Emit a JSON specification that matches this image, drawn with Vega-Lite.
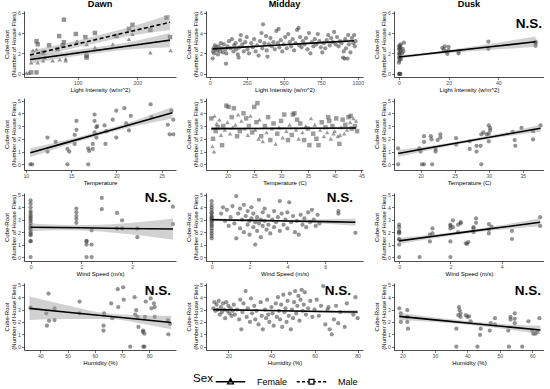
{
"$schema": "https://vega.github.io/schema/vega-lite/v6.json",
"padding": {"left": 3, "top": 0, "right": 0, "bottom": 0},
"config": {
 "font": "Liberation Sans",
 "view": {"stroke": null},
 "axis": {"grid": false, "domainColor": "#000", "domainWidth": 0.7, "tickColor": "#333", "tickWidth": 0.7, "tickSize": 2.5, "labelFontSize": 5.2, "labelColor": "#4d4d4d", "labelPadding": 1, "titleFontSize": 6, "titleFontWeight": "normal", "titleColor": "#000", "titlePadding": 0.5, "labelFlush": false, "labelOverlap": false, "labelBound": false, "format": "d"},
 "axisY": {"titleLineHeight": 7, "titlePadding": 1},
 "title": {"fontSize": 9.2, "fontWeight": "bold", "color": "#000", "offset": 1}
},
"columns": 3,
"align": "each",
"spacing": {"row": 5, "column": 8},
"resolve": {"scale": {"shape": "independent", "strokeDash": "independent"}, "legend": {"shape": "independent", "strokeDash": "independent"}},
"datasets": {
"p1": [
{"x":22,"y":1.1,"sex":"Female"},{"x":33,"y":1.1,"sex":"Female"},{"x":42,"y":1.3,"sex":"Female"},{"x":58,"y":1.3,"sex":"Female"},{"x":80,"y":1.3,"sex":"Female"},{"x":80,"y":1.5,"sex":"Female"},{"x":99,"y":3.2,"sex":"Female"},{"x":115,"y":2.9,"sex":"Female"},{"x":129,"y":2.6,"sex":"Female"},{"x":159,"y":2.9,"sex":"Female"},{"x":186,"y":3.4,"sex":"Female"},{"x":192,"y":3.9,"sex":"Female"},{"x":222,"y":2.1,"sex":"Female"},{"x":256,"y":2.3,"sex":"Female"},{"x":14,"y":0.1,"sex":"Female"},{"x":18,"y":0.1,"sex":"Female"},{"x":31,"y":2.4,"sex":"Female"},{"x":25,"y":2.3,"sex":"Female"},{"x":45,"y":1.6,"sex":"Female"},{"x":70,"y":1.4,"sex":"Female"},
{"x":31,"y":3.2,"sex":"Male"},{"x":33,"y":2.9,"sex":"Male"},{"x":77,"y":5.3,"sex":"Male"},{"x":69,"y":3.7,"sex":"Male"},{"x":97,"y":3.9,"sex":"Male"},{"x":113,"y":3.6,"sex":"Male"},{"x":129,"y":4.0,"sex":"Male"},{"x":77,"y":3.1,"sex":"Male"},{"x":75,"y":2.8,"sex":"Male"},{"x":52,"y":2.8,"sex":"Male"},{"x":186,"y":4.4,"sex":"Male"},{"x":192,"y":4.8,"sex":"Male"},{"x":222,"y":4.3,"sex":"Male"},{"x":249,"y":5.5,"sex":"Male"},{"x":255,"y":3.6,"sex":"Male"},{"x":115,"y":1.8,"sex":"Male"},{"x":115,"y":1.6,"sex":"Male"},{"x":165,"y":3.7,"sex":"Male"},{"x":31,"y":0.15,"sex":"Male"},{"x":22,"y":0.15,"sex":"Male"},{"x":42,"y":2.1,"sex":"Male"},{"x":66,"y":2.4,"sex":"Male"}
],
"f1": [
{"x":20,"y":1.4,"lo":1.0,"hi":1.8,"sex":"Female"},{"x":80,"y":1.89,"lo":1.6,"hi":2.2,"sex":"Female"},{"x":130,"y":2.29,"lo":2.0,"hi":2.6,"sex":"Female"},{"x":190,"y":2.77,"lo":2.4,"hi":3.15,"sex":"Female"},{"x":255,"y":3.3,"lo":2.6,"hi":4.0,"sex":"Female"},
{"x":20,"y":1.85,"lo":1.4,"hi":2.3,"sex":"Male"},{"x":80,"y":2.67,"lo":2.35,"hi":3.0,"sex":"Male"},{"x":130,"y":3.35,"lo":3.0,"hi":3.7,"sex":"Male"},{"x":190,"y":4.17,"lo":3.75,"hi":4.6,"sex":"Male"},{"x":255,"y":5.05,"lo":4.3,"hi":5.8,"sex":"Male"}
],
"p2": [
{"x":20,"y":1.5},{"x":22,"y":2.2},{"x":25,"y":2.5},{"x":30,"y":2.0},{"x":35,"y":2.8},{"x":40,"y":2.4},{"x":45,"y":2.6},{"x":50,"y":2.3},{"x":55,"y":1.9},{"x":60,"y":2.7},{"x":70,"y":2.2},{"x":75,"y":3.0},{"x":80,"y":2.5},{"x":90,"y":2.1},{"x":95,"y":2.9},{"x":110,"y":1.0},{"x":105,"y":2.4},{"x":112,"y":2.0},{"x":120,"y":2.7},{"x":130,"y":3.2},{"x":140,"y":2.5},{"x":150,"y":3.4},{"x":160,"y":2.2},{"x":165,"y":2.8},{"x":175,"y":3.0},{"x":180,"y":2.4},{"x":190,"y":1.9},{"x":195,"y":1.6},{"x":200,"y":2.6},{"x":205,"y":3.3},{"x":210,"y":3.8},{"x":220,"y":2.9},{"x":230,"y":2.2},{"x":240,"y":3.1},{"x":250,"y":3.6},{"x":255,"y":2.4},{"x":265,"y":2.0},{"x":280,"y":3.0},{"x":290,"y":2.6},{"x":300,"y":3.4},{"x":310,"y":2.2},{"x":320,"y":2.8},{"x":330,"y":1.8},{"x":340,"y":3.2},{"x":350,"y":4.0},{"x":355,"y":2.5},{"x":360,"y":4.85},{"x":370,"y":3.0},{"x":380,"y":3.7},{"x":385,"y":2.3},{"x":390,"y":1.7},{"x":400,"y":2.9},{"x":410,"y":3.5},{"x":420,"y":2.7},{"x":430,"y":3.1},{"x":440,"y":2.4},{"x":450,"y":4.2},{"x":460,"y":3.0},{"x":465,"y":4.4},{"x":470,"y":2.6},{"x":480,"y":3.3},{"x":490,"y":2.2},{"x":500,"y":2.9},{"x":510,"y":3.6},{"x":520,"y":2.5},{"x":530,"y":3.9},{"x":540,"y":3.1},{"x":550,"y":2.7},{"x":560,"y":3.4},{"x":570,"y":2.3},{"x":580,"y":3.0},{"x":590,"y":4.3},{"x":600,"y":4.5},{"x":605,"y":2.8},{"x":610,"y":3.6},{"x":620,"y":2.6},{"x":630,"y":3.2},{"x":640,"y":2.9},{"x":650,"y":3.5},{"x":660,"y":2.4},{"x":670,"y":4.0},{"x":680,"y":2.0},{"x":690,"y":3.1},{"x":700,"y":2.7},{"x":710,"y":3.4},{"x":720,"y":2.9},{"x":730,"y":3.9},{"x":740,"y":3.2},{"x":750,"y":2.6},{"x":760,"y":2.1},{"x":770,"y":3.0},{"x":780,"y":2.5},{"x":790,"y":3.3},{"x":800,"y":3.8},{"x":810,"y":2.8},{"x":820,"y":3.5},{"x":830,"y":3.1},{"x":840,"y":4.1},{"x":850,"y":2.9},{"x":860,"y":3.6},{"x":870,"y":2.7},{"x":880,"y":3.2},{"x":890,"y":3.0},{"x":900,"y":1.6},{"x":905,"y":2.2},{"x":910,"y":1.5},{"x":915,"y":3.4},{"x":920,"y":2.5},{"x":930,"y":1.5},{"x":935,"y":3.8},{"x":940,"y":2.9},{"x":950,"y":2.1},{"x":960,"y":3.5},{"x":970,"y":3.0},{"x":975,"y":3.8},{"x":980,"y":2.7},{"x":985,"y":3.2}
],
"f2": [
{"x":20,"y":2.45,"lo":2.27,"hi":2.63},{"x":250,"y":2.64,"lo":2.54,"hi":2.74},{"x":500,"y":2.85,"lo":2.77,"hi":2.93},{"x":750,"y":3.06,"lo":2.96,"hi":3.16},{"x":975,"y":3.25,"lo":3.08,"hi":3.42}
],
"p3": [
{"x":0,"y":0},{"x":0.2,"y":0},{"x":0.4,"y":0},{"x":0.6,"y":0},{"x":0,"y":1.1},{"x":0.2,"y":1.3},{"x":0.4,"y":1.5},{"x":0,"y":1.6},{"x":0.5,"y":1.7},{"x":0.2,"y":1.9},{"x":0,"y":2.0},{"x":0.4,"y":2.1},{"x":0.6,"y":2.3},{"x":0,"y":2.4},{"x":0.3,"y":2.5},{"x":0.5,"y":2.6},{"x":0,"y":2.7},{"x":0.4,"y":2.8},{"x":0.7,"y":2.9},{"x":1.5,"y":2.45},{"x":1.8,"y":2.2},{"x":2.0,"y":3.05},{"x":1.2,"y":2.0},{"x":0.8,"y":1.45},
{"x":17.5,"y":2.55},{"x":18,"y":2.4},{"x":18.5,"y":2.7},{"x":19,"y":2.2},{"x":19.5,"y":1.95},{"x":20,"y":2.65},{"x":20,"y":2.3},{"x":24,"y":2.0},{"x":24,"y":2.2},{"x":36,"y":2.45},{"x":36,"y":3.15},{"x":55,"y":2.75},{"x":55,"y":3.0},{"x":55,"y":3.15}
],
"f3": [
{"x":0,"y":1.65,"lo":1.5,"hi":1.8},{"x":10,"y":1.92,"lo":1.8,"hi":2.04},{"x":20,"y":2.2,"lo":2.05,"hi":2.35},{"x":35,"y":2.6,"lo":2.32,"hi":2.88},{"x":55,"y":3.15,"lo":2.65,"hi":3.65}
],
"p4": [
{"x":10.5,"y":0},{"x":10.7,"y":0},{"x":12.4,"y":2.1},{"x":12.4,"y":1.0},{"x":13.3,"y":1.75},{"x":14.6,"y":0},{"x":14.6,"y":1.2},{"x":14.8,"y":1.0},{"x":15.4,"y":2.3},{"x":15.6,"y":3.4},{"x":15.6,"y":2.7},{"x":15.4,"y":1.6},{"x":16.9,"y":0},{"x":16.9,"y":1.25},{"x":17.0,"y":1.05},{"x":17.4,"y":1.2},{"x":17.4,"y":1.6},{"x":17.6,"y":3.9},{"x":17.6,"y":3.4},{"x":17.8,"y":2.9},{"x":17.8,"y":2.1},{"x":17.6,"y":2.5},{"x":17.9,"y":3.0},{"x":18.7,"y":3.05},{"x":18.8,"y":1.6},{"x":18.9,"y":2.6},{"x":19.6,"y":3.5},{"x":20,"y":2.1},{"x":20,"y":4.2},{"x":20.9,"y":4.4},{"x":21.1,"y":3.2},{"x":21.6,"y":3.8},{"x":21.4,"y":2.65},{"x":23.8,"y":4.7},{"x":23.9,"y":3.7},{"x":25.7,"y":3.1},{"x":25.9,"y":2.35},{"x":26.3,"y":2.35},{"x":26.3,"y":3.5},{"x":26.1,"y":4.2}
],
"f4": [
{"x":10.5,"y":0.9,"lo":0.55,"hi":1.25},{"x":14,"y":1.6,"lo":1.38,"hi":1.82},{"x":18,"y":2.4,"lo":2.23,"hi":2.57},{"x":22,"y":3.2,"lo":2.98,"hi":3.42},{"x":26.2,"y":4.05,"lo":3.6,"hi":4.5}
],
"p5": [
{"x":17.0,"y":3.6,"sex":"Male"},{"x":17.2,"y":1.4,"sex":"Female"},{"x":17.5,"y":1.0,"sex":"Female"},{"x":17.3,"y":2.0,"sex":"Male"},{"x":17.6,"y":3.8,"sex":"Female"},{"x":17.8,"y":2.6,"sex":"Male"},{"x":18.0,"y":3.2,"sex":"Female"},{"x":18.2,"y":2.9,"sex":"Male"},{"x":18.5,"y":3.5,"sex":"Female"},{"x":18.8,"y":2.3,"sex":"Female"},{"x":19.0,"y":1.5,"sex":"Male"},{"x":19.2,"y":3.0,"sex":"Male"},{"x":19.5,"y":2.7,"sex":"Female"},{"x":19.8,"y":4.6,"sex":"Male"},{"x":20.0,"y":3.3,"sex":"Female"},{"x":20.2,"y":4.5,"sex":"Male"},{"x":20.5,"y":2.4,"sex":"Female"},{"x":20.8,"y":3.7,"sex":"Male"},{"x":21.0,"y":2.9,"sex":"Female"},{"x":21.2,"y":4.4,"sex":"Male"},{"x":21.5,"y":3.1,"sex":"Female"},{"x":21.8,"y":2.2,"sex":"Male"},{"x":22.0,"y":3.9,"sex":"Female"},{"x":22.3,"y":2.6,"sex":"Male"},{"x":22.6,"y":3.4,"sex":"Female"},{"x":23.0,"y":4.0,"sex":"Male"},{"x":23.2,"y":2.8,"sex":"Female"},{"x":23.5,"y":3.6,"sex":"Male"},{"x":23.8,"y":2.3,"sex":"Female"},{"x":24.0,"y":3.0,"sex":"Male"},{"x":24.3,"y":3.8,"sex":"Female"},{"x":24.6,"y":2.5,"sex":"Male"},{"x":25.0,"y":4.5,"sex":"Male"},{"x":25.2,"y":2.7,"sex":"Female"},{"x":25.4,"y":3.3,"sex":"Male"},{"x":25.6,"y":4.8,"sex":"Male"},{"x":25.8,"y":2.0,"sex":"Female"},{"x":26.0,"y":3.5,"sex":"Female"},{"x":26.3,"y":2.2,"sex":"Male"},{"x":26.6,"y":1.8,"sex":"Female"},{"x":27.0,"y":3.0,"sex":"Male"},{"x":27.3,"y":2.5,"sex":"Female"},{"x":27.6,"y":3.7,"sex":"Male"},{"x":28.0,"y":1.9,"sex":"Male"},{"x":28.3,"y":2.8,"sex":"Female"},{"x":28.6,"y":3.2,"sex":"Male"},{"x":29.0,"y":1.6,"sex":"Female"},{"x":29.3,"y":2.4,"sex":"Male"},{"x":29.6,"y":2.9,"sex":"Female"},{"x":30.0,"y":3.4,"sex":"Male"},{"x":30.3,"y":2.1,"sex":"Female"},{"x":30.6,"y":3.9,"sex":"Male"},{"x":31.0,"y":2.6,"sex":"Female"},{"x":31.3,"y":1.9,"sex":"Male"},{"x":31.6,"y":3.1,"sex":"Female"},{"x":32.0,"y":2.3,"sex":"Male"},{"x":32.2,"y":3.9,"sex":"Male"},{"x":32.5,"y":4.0,"sex":"Male"},{"x":32.8,"y":2.7,"sex":"Female"},{"x":33.0,"y":3.5,"sex":"Male"},{"x":33.3,"y":2.0,"sex":"Female"},{"x":33.6,"y":3.2,"sex":"Male"},{"x":34.0,"y":2.5,"sex":"Female"},{"x":34.3,"y":1.9,"sex":"Male"},{"x":34.6,"y":3.0,"sex":"Female"},{"x":35.0,"y":2.8,"sex":"Male"},{"x":35.3,"y":1.5,"sex":"Male"},{"x":35.6,"y":3.6,"sex":"Female"},{"x":36.0,"y":2.4,"sex":"Male"},{"x":36.3,"y":3.1,"sex":"Female"},{"x":36.6,"y":2.0,"sex":"Male"},{"x":37.0,"y":1.5,"sex":"Male"},{"x":37.3,"y":2.7,"sex":"Female"},{"x":37.6,"y":3.3,"sex":"Male"},{"x":38.0,"y":2.2,"sex":"Female"},{"x":38.3,"y":2.9,"sex":"Male"},{"x":38.6,"y":2.5,"sex":"Female"},{"x":39.0,"y":3.4,"sex":"Male"},{"x":39.3,"y":2.0,"sex":"Female"},{"x":39.6,"y":3.0,"sex":"Male"},{"x":40.0,"y":2.6,"sex":"Female"},{"x":40.3,"y":3.6,"sex":"Male"},{"x":40.6,"y":2.2,"sex":"Female"},{"x":40.9,"y":1.6,"sex":"Male"},{"x":41.2,"y":2.9,"sex":"Female"},{"x":41.5,"y":3.5,"sex":"Male"},{"x":41.8,"y":2.4,"sex":"Female"},{"x":42.0,"y":3.1,"sex":"Male"},{"x":42.3,"y":2.7,"sex":"Female"},{"x":42.6,"y":3.7,"sex":"Male"},{"x":42.9,"y":3.3,"sex":"Female"},{"x":43.2,"y":2.8,"sex":"Male"},{"x":43.5,"y":3.6,"sex":"Female"},{"x":43.8,"y":3.0,"sex":"Male"},{"x":44.0,"y":3.4,"sex":"Female"},{"x":44.2,"y":2.6,"sex":"Male"},{"x":43.0,"y":3.8,"sex":"Male"},{"x":41.0,"y":2.3,"sex":"Female"},{"x":39.8,"y":2.4,"sex":"Female"},{"x":38.8,"y":3.7,"sex":"Male"}
],
"f5": [
{"x":17,"y":2.8,"lo":2.65,"hi":2.95},{"x":24,"y":2.81,"lo":2.72,"hi":2.9},{"x":30,"y":2.82,"lo":2.74,"hi":2.9},{"x":37,"y":2.83,"lo":2.74,"hi":2.92},{"x":44,"y":2.85,"lo":2.71,"hi":2.99}
],
"p6": [
{"x":16.7,"y":1.25},{"x":16.7,"y":0},{"x":19.8,"y":1.25},{"x":20,"y":1.0},{"x":20.5,"y":1.75},{"x":20.5,"y":2.2},{"x":20.2,"y":0},{"x":20.5,"y":0},{"x":21.7,"y":0},{"x":21.5,"y":2.2},{"x":21.6,"y":1.95},{"x":22.2,"y":1.2},{"x":22.2,"y":1.0},{"x":22.5,"y":1.9},{"x":22.9,"y":2.35},{"x":22.9,"y":2.1},{"x":25.2,"y":2.05},{"x":25.2,"y":1.55},{"x":27.2,"y":1.8},{"x":27.2,"y":1.2},{"x":28.2,"y":1.0},{"x":28.2,"y":1.45},{"x":28.8,"y":1.45},{"x":28.9,"y":0},{"x":28.9,"y":2.35},{"x":29.2,"y":2.5},{"x":29.7,"y":2.35},{"x":30,"y":2.4},{"x":30,"y":3.05},{"x":30.2,"y":2.65},{"x":30.2,"y":2.85},{"x":30,"y":1.8},{"x":33.5,"y":2.55},{"x":33.8,"y":1.9},{"x":33.9,"y":1.45},{"x":34.8,"y":2.85},{"x":36.5,"y":2.6},{"x":36.5,"y":1.95},{"x":37.6,"y":3.05}
],
"f6": [
{"x":16.7,"y":0.85,"lo":0.57,"hi":1.13},{"x":22,"y":1.35,"lo":1.2,"hi":1.5},{"x":27,"y":1.82,"lo":1.7,"hi":1.94},{"x":32,"y":2.3,"lo":2.15,"hi":2.45},{"x":37.6,"y":2.82,"lo":2.56,"hi":3.08}
],
"p7": [
{"x":0,"y":0},{"x":0,"y":1.25},{"x":0,"y":1.3},{"x":0,"y":1.75},{"x":0,"y":1.85},{"x":0,"y":2.0},{"x":0,"y":2.2},{"x":0,"y":2.35},{"x":0,"y":2.5},{"x":0,"y":2.7},{"x":0,"y":2.9},{"x":0,"y":3.05},{"x":0,"y":3.2},{"x":0,"y":3.35},{"x":0,"y":3.55},{"x":0,"y":3.7},{"x":0,"y":4.0},{"x":0,"y":4.3},{"x":0,"y":4.55},
{"x":0.9,"y":2.75},{"x":0.9,"y":3.05},{"x":0.9,"y":3.3},{"x":0.9,"y":3.6},{"x":0.9,"y":3.9},
{"x":1.1,"y":0},{"x":1.1,"y":1.0},{"x":1.1,"y":1.25},{"x":1.1,"y":1.3},{"x":1.2,"y":0},{"x":1.2,"y":1.0},{"x":1.2,"y":2.15},
{"x":1.4,"y":3.85},{"x":1.4,"y":4.75},{"x":1.7,"y":2.3},{"x":1.7,"y":3.55},{"x":1.8,"y":2.3},{"x":1.8,"y":2.95},{"x":2.1,"y":1.6},{"x":2.1,"y":2.3},{"x":2.8,"y":2.65},{"x":2.8,"y":4.05}
],
"f7": [
{"x":0,"y":2.4,"lo":2.08,"hi":2.72},{"x":0.5,"y":2.37,"lo":2.15,"hi":2.59},{"x":1.0,"y":2.35,"lo":2.13,"hi":2.57},{"x":1.8,"y":2.3,"lo":1.9,"hi":2.7},{"x":2.8,"y":2.25,"lo":1.4,"hi":3.1}
],
"p8": [
{"x":0,"y":1.5},{"x":0,"y":1.7},{"x":0,"y":1.9},{"x":0,"y":2.1},{"x":0,"y":2.3},{"x":0,"y":2.5},{"x":0,"y":2.6},{"x":0,"y":2.8},{"x":0,"y":2.9},{"x":0,"y":3.0},{"x":0,"y":3.1},{"x":0,"y":3.2},{"x":0,"y":3.3},{"x":0,"y":3.5},{"x":0,"y":3.6},{"x":0,"y":3.8},{"x":0,"y":4.0},{"x":0,"y":4.2},{"x":0,"y":4.5},
{"x":0.5,"y":3.5},{"x":0.6,"y":4.0},{"x":0.7,"y":2.9},{"x":0.8,"y":3.8},{"x":0.9,"y":2.5},{"x":1.0,"y":3.2},{"x":1.1,"y":4.1},{"x":1.2,"y":2.7},{"x":1.3,"y":4.9},{"x":1.3,"y":1.5},{"x":1.4,"y":3.5},{"x":1.5,"y":2.3},{"x":1.5,"y":3.9},{"x":1.6,"y":3.0},{"x":1.7,"y":4.2},{"x":1.7,"y":2.0},{"x":1.8,"y":3.3},{"x":1.9,"y":2.6},{"x":1.9,"y":3.7},{"x":2.0,"y":2.9},{"x":2.0,"y":1.8},{"x":2.1,"y":4.0},{"x":2.1,"y":3.1},{"x":2.2,"y":2.4},{"x":2.2,"y":3.5},{"x":2.3,"y":1.0},{"x":2.3,"y":2.8},{"x":2.4,"y":3.2},{"x":2.4,"y":2.1},{"x":2.5,"y":4.6},{"x":2.5,"y":2.7},{"x":2.6,"y":3.0},{"x":2.6,"y":1.6},{"x":2.7,"y":3.6},{"x":2.7,"y":2.5},{"x":2.8,"y":2.9},{"x":2.8,"y":3.9},{"x":2.9,"y":2.2},{"x":3.0,"y":3.3},{"x":3.0,"y":2.6},{"x":3.1,"y":1.9},{"x":3.2,"y":3.0},{"x":3.3,"y":2.4},{"x":3.3,"y":3.7},{"x":3.4,"y":2.8},{"x":3.5,"y":3.2},{"x":3.6,"y":4.5},{"x":3.6,"y":2.1},{"x":3.7,"y":3.5},{"x":3.8,"y":2.6},{"x":3.9,"y":3.0},{"x":4.0,"y":2.3},{"x":4.0,"y":3.6},{"x":4.1,"y":4.4},{"x":4.2,"y":2.8},{"x":4.3,"y":3.3},{"x":4.4,"y":2.0},{"x":4.5,"y":2.9},{"x":4.6,"y":1.8},{"x":4.7,"y":3.4},{"x":4.8,"y":2.6},{"x":4.9,"y":3.1},{"x":5.0,"y":2.4},{"x":5.1,"y":3.6},{"x":5.2,"y":2.8},{"x":5.3,"y":3.8},{"x":5.4,"y":3.0},{"x":5.5,"y":2.5},{"x":5.6,"y":3.4},{"x":5.7,"y":2.7},{"x":6.7,"y":3.5},{"x":6.7,"y":3.7},{"x":7.6,"y":1.95}
],
"f8": [
{"x":0,"y":3.0,"lo":2.88,"hi":3.12},{"x":2,"y":2.95,"lo":2.88,"hi":3.02},{"x":4,"y":2.9,"lo":2.81,"hi":2.99},{"x":6,"y":2.85,"lo":2.67,"hi":3.03},{"x":7.6,"y":2.8,"lo":2.52,"hi":3.08}
],
"p9": [
{"x":0,"y":0},{"x":0,"y":1.0},{"x":0,"y":1.4},{"x":0,"y":1.45},{"x":0,"y":1.9},{"x":0,"y":2.0},{"x":0,"y":2.1},{"x":0,"y":2.4},{"x":0,"y":2.6},{"x":0.8,"y":0},{"x":1.2,"y":1.25},{"x":1.2,"y":1.8},{"x":1.3,"y":1.9},{"x":1.3,"y":2.3},{"x":2.0,"y":0},{"x":2.0,"y":1.25},{"x":2.0,"y":2.3},{"x":2.0,"y":2.5},{"x":2.0,"y":2.6},{"x":2.1,"y":2.95},{"x":2.1,"y":2.4},{"x":2.3,"y":2.0},{"x":2.3,"y":2.6},{"x":2.4,"y":2.8},{"x":2.4,"y":2.7},{"x":2.6,"y":1.1},{"x":2.7,"y":1.2},{"x":2.65,"y":1.05},{"x":2.9,"y":2.0},{"x":2.9,"y":2.3},{"x":2.9,"y":2.4},{"x":3.0,"y":3.1},{"x":3.0,"y":2.75},{"x":3.5,"y":1.9},{"x":3.5,"y":2.65},{"x":3.5,"y":2.2},{"x":3.6,"y":2.45},{"x":4.4,"y":2.1},{"x":4.4,"y":1.45},{"x":5.5,"y":2.5},{"x":5.5,"y":3.2}
],
"f9": [
{"x":0,"y":1.3,"lo":1.05,"hi":1.55},{"x":1.5,"y":1.71,"lo":1.56,"hi":1.86},{"x":2.7,"y":2.04,"lo":1.92,"hi":2.16},{"x":4,"y":2.39,"lo":2.21,"hi":2.57},{"x":5.5,"y":2.8,"lo":2.48,"hi":3.12}
],
"p10": [
{"x":36.4,"y":3.15},{"x":42.2,"y":2.7},{"x":42.4,"y":1.7},{"x":43,"y":4.3},{"x":43.2,"y":2.1},{"x":45.2,"y":3.1},{"x":45.2,"y":2.15},{"x":54.4,"y":3.65},{"x":54.4,"y":2.7},{"x":63.2,"y":1.7},{"x":63.2,"y":1.3},{"x":63.4,"y":2.7},{"x":66,"y":3.5},{"x":66.4,"y":2.3},{"x":68.4,"y":4.65},{"x":68.6,"y":3.2},{"x":70.4,"y":4.8},{"x":70.6,"y":3.8},{"x":73,"y":0},{"x":74.6,"y":4.0},{"x":74.8,"y":2.6},{"x":75.2,"y":2.95},{"x":75.7,"y":2.4},{"x":76,"y":1.6},{"x":77.6,"y":1.2},{"x":77.8,"y":1.3},{"x":78.2,"y":1.05},{"x":78.2,"y":0},{"x":77.8,"y":0},{"x":78.7,"y":3.65},{"x":78.4,"y":2.4},{"x":80.5,"y":3.9},{"x":80.8,"y":3.1},{"x":81.7,"y":3.5},{"x":82,"y":3.2},{"x":82,"y":2.4},{"x":86.8,"y":2.15},{"x":87,"y":1.0},{"x":87.6,"y":1.85}
],
"f10": [
{"x":36,"y":3.1,"lo":2.15,"hi":4.05},{"x":50,"y":2.79,"lo":2.24,"hi":3.34},{"x":65,"y":2.46,"lo":2.24,"hi":2.68},{"x":78,"y":2.18,"lo":1.83,"hi":2.53},{"x":88,"y":1.95,"lo":1.4,"hi":2.5}
],
"p11": [
{"x":13,"y":3.1},{"x":13.5,"y":3.6},{"x":14,"y":2.9},{"x":14.5,"y":3.4},{"x":15,"y":3.0},{"x":15.5,"y":3.7},{"x":16,"y":2.6},{"x":16.5,"y":3.2},{"x":17,"y":2.8},{"x":17.5,"y":3.5},{"x":18,"y":3.0},{"x":18.5,"y":2.3},{"x":19,"y":3.6},{"x":19.5,"y":2.9},{"x":20,"y":3.3},{"x":20.5,"y":2.7},{"x":21,"y":3.1},{"x":21.5,"y":2.5},{"x":22,"y":2.9},{"x":22.5,"y":3.4},{"x":23,"y":2.6},{"x":24,"y":3.0},{"x":25,"y":2.2},{"x":25.5,"y":3.8},{"x":26,"y":1.4},{"x":26.5,"y":2.8},{"x":27,"y":3.5},{"x":28,"y":4.5},{"x":28.5,"y":2.4},{"x":29,"y":3.1},{"x":30,"y":2.0},{"x":30.5,"y":3.9},{"x":31,"y":2.7},{"x":32,"y":3.3},{"x":32.5,"y":2.2},{"x":33,"y":2.9},{"x":34,"y":1.8},{"x":35,"y":3.6},{"x":35.5,"y":2.5},{"x":36,"y":1.4},{"x":37,"y":3.0},{"x":37.5,"y":2.3},{"x":38,"y":3.8},{"x":38.5,"y":2.6},{"x":39,"y":2.0},{"x":40,"y":3.2},{"x":40.5,"y":2.7},{"x":41,"y":1.7},{"x":42,"y":3.5},{"x":42.5,"y":2.4},{"x":43,"y":4.0},{"x":43.5,"y":2.9},{"x":44,"y":2.2},{"x":44.5,"y":3.4},{"x":45,"y":1.6},{"x":45.5,"y":4.2},{"x":46,"y":2.8},{"x":46.5,"y":3.1},{"x":47,"y":2.0},{"x":47.5,"y":3.7},{"x":48,"y":2.5},{"x":48.5,"y":4.3},{"x":49,"y":1.4},{"x":49.5,"y":3.0},{"x":50,"y":2.3},{"x":50.5,"y":3.6},{"x":51,"y":4.5},{"x":51.5,"y":2.7},{"x":52,"y":3.3},{"x":52.5,"y":4.1},{"x":53,"y":2.1},{"x":53.5,"y":3.8},{"x":54,"y":4.6},{"x":54.5,"y":2.9},{"x":55,"y":3.4},{"x":55.5,"y":4.4},{"x":56,"y":2.6},{"x":57,"y":3.1},{"x":58,"y":3.7},{"x":59,"y":2.4},{"x":60,"y":3.0},{"x":61,"y":3.8},{"x":62,"y":2.5},{"x":63,"y":3.3},{"x":64,"y":4.9},{"x":65,"y":1.8},{"x":66,"y":3.0},{"x":66.5,"y":3.2},{"x":67,"y":1.4},{"x":68,"y":1.0},{"x":69,"y":2.2},{"x":70,"y":3.3},{"x":71,"y":1.9},{"x":72,"y":2.8},{"x":74,"y":1.6},{"x":75,"y":3.5},{"x":78,"y":2.6},{"x":79,"y":4.0},{"x":80,"y":2.3}
],
"f11": [
{"x":13,"y":3.0,"lo":2.88,"hi":3.12},{"x":30,"y":2.95,"lo":2.88,"hi":3.02},{"x":45,"y":2.9,"lo":2.84,"hi":2.96},{"x":62,"y":2.85,"lo":2.76,"hi":2.94},{"x":80,"y":2.8,"lo":2.63,"hi":2.97}
],
"p12": [
{"x":19,"y":3.1},{"x":19.5,"y":2.7},{"x":19.5,"y":2.0},{"x":21.5,"y":2.95},{"x":21.5,"y":2.4},{"x":21.7,"y":1.45},{"x":21.5,"y":2.0},{"x":36.6,"y":1.45},{"x":36.6,"y":0},{"x":37.2,"y":2.55},{"x":37.4,"y":3.2},{"x":37.6,"y":2.95},{"x":37.9,"y":2.4},{"x":37.9,"y":2.7},{"x":39.5,"y":2.55},{"x":40,"y":2.4},{"x":40.5,"y":2.45},{"x":41,"y":2.05},{"x":43.1,"y":0},{"x":43.9,"y":0.95},{"x":44.1,"y":1.45},{"x":46.9,"y":1.3},{"x":47.2,"y":1.9},{"x":48.5,"y":2.3},{"x":48.5,"y":1.8},{"x":52.6,"y":1.3},{"x":52.8,"y":0},{"x":53.3,"y":2.4},{"x":53.3,"y":2.2},{"x":54.6,"y":2.7},{"x":54.6,"y":2.25},{"x":54.6,"y":1.9},{"x":56.9,"y":0},{"x":58.8,"y":2.05},{"x":60,"y":1.3},{"x":60.3,"y":1.05},{"x":61,"y":1.05},{"x":61.5,"y":1.2},{"x":62.2,"y":2.3}
],
"f12": [
{"x":19,"y":2.45,"lo":2.15,"hi":2.75},{"x":30,"y":2.17,"lo":1.99,"hi":2.35},{"x":40,"y":1.92,"lo":1.77,"hi":2.07},{"x":52,"y":1.61,"lo":1.41,"hi":1.81},{"x":62.5,"y":1.35,"lo":1.0,"hi":1.7}
]
},
"concat": [
{
 "width": 152, "height": 66, "title": "Dawn",
 "layer": [
  {"data": {"name": "p1"}, "mark": {"type": "point", "filled": true, "color": "#3a3a3a", "opacity": 0.55, "size": 20},
   "encoding": {
    "x": {"field": "x", "type": "quantitative", "title": "Light Intensity (w/m^2)", "scale": {"domain": [10, 265], "nice": false, "zero": false}, "axis": {"values": [100, 200], "labelOverlap": false, "tickCount": 12}},
    "y": {"field": "y", "type": "quantitative", "title": ["Cube-Root", "(Number of House Flies)"], "scale": {"domain": [-0.3, 6.15], "nice": false, "zero": false}, "axis": {"values": [0, 2, 4, 6], "labelOverlap": false, "tickCount": 12}},
    "shape": {"field": "sex", "type": "nominal", "scale": {"domain": ["Female", "Male"], "range": ["triangle-up", "square"]}, "legend": null}}},
  {"data": {"name": "f1"}, "mark": {"type": "area", "color": "#9a9a9a", "opacity": 0.45, "interpolate": "monotone"},
   "encoding": {"x": {"field": "x", "type": "quantitative", "title": "Light Intensity (w/m^2)"}, "y": {"field": "lo", "type": "quantitative", "title": ["Cube-Root", "(Number of House Flies)"]}, "y2": {"field": "hi"}, "detail": {"field": "sex"}}},
  {"data": {"name": "f1"}, "mark": {"type": "line", "color": "#000", "strokeWidth": 1.6},
   "encoding": {"x": {"field": "x", "type": "quantitative", "title": "Light Intensity (w/m^2)"}, "y": {"field": "y", "type": "quantitative", "title": ["Cube-Root", "(Number of House Flies)"]},
    "strokeDash": {"field": "sex", "type": "nominal", "scale": {"domain": ["Female", "Male"], "range": [[1, 0], [4, 2.5]]}, "legend": null}}}
 ]
},
{
 "width": 157, "height": 66, "title": "Midday",
 "layer": [
  {"data": {"name": "p2"}, "mark": {"type": "point", "filled": true, "color": "#3a3a3a", "opacity": 0.55, "size": 18},
   "encoding": {
    "x": {"field": "x", "type": "quantitative", "title": "Light Intensity (w/m^2)", "scale": {"domain": [-25, 1035], "nice": false, "zero": false}, "axis": {"values": [0, 250, 500, 750, 1000], "labelOverlap": false, "tickCount": 12}},
    "y": {"field": "y", "type": "quantitative", "title": ["Cube-Root", "(Number of House Flies)"], "scale": {"domain": [-0.3, 6.15], "nice": false, "zero": false}, "axis": {"values": [0, 2, 4, 6], "labelOverlap": false, "tickCount": 12}}}},
  {"data": {"name": "f2"}, "mark": {"type": "area", "color": "#9a9a9a", "opacity": 0.45, "interpolate": "monotone"},
   "encoding": {"x": {"field": "x", "type": "quantitative", "title": "Light Intensity (w/m^2)"}, "y": {"field": "lo", "type": "quantitative", "title": ["Cube-Root", "(Number of House Flies)"]}, "y2": {"field": "hi"}}},
  {"data": {"name": "f2"}, "mark": {"type": "line", "color": "#000", "strokeWidth": 1.6},
   "encoding": {"x": {"field": "x", "type": "quantitative", "title": "Light Intensity (w/m^2)"}, "y": {"field": "y", "type": "quantitative", "title": ["Cube-Root", "(Number of House Flies)"]}}}
 ]
},
{
 "width": 150, "height": 66, "title": "Dusk",
 "layer": [
  {"data": {"name": "p3"}, "mark": {"type": "point", "filled": true, "color": "#3a3a3a", "opacity": 0.55, "size": 18},
   "encoding": {
    "x": {"field": "x", "type": "quantitative", "title": "Light Intensity (w/m^2)", "scale": {"domain": [-2, 58.4], "nice": false, "zero": false}, "axis": {"values": [0, 20, 40], "labelOverlap": false, "tickCount": 12}},
    "y": {"field": "y", "type": "quantitative", "title": ["Cube-Root", "(Number of House Flies)"], "scale": {"domain": [-0.3, 6.15], "nice": false, "zero": false}, "axis": {"values": [0, 2, 4, 6], "labelOverlap": false, "tickCount": 12}}}},
  {"data": {"name": "f3"}, "mark": {"type": "area", "color": "#9a9a9a", "opacity": 0.45, "interpolate": "monotone"},
   "encoding": {"x": {"field": "x", "type": "quantitative", "title": "Light Intensity (w/m^2)"}, "y": {"field": "lo", "type": "quantitative", "title": ["Cube-Root", "(Number of House Flies)"]}, "y2": {"field": "hi"}}},
  {"data": {"name": "f3"}, "mark": {"type": "line", "color": "#000", "strokeWidth": 1.6},
   "encoding": {"x": {"field": "x", "type": "quantitative", "title": "Light Intensity (w/m^2)"}, "y": {"field": "y", "type": "quantitative", "title": ["Cube-Root", "(Number of House Flies)"]}}},
  {"data": {"values": [{}]}, "mark": {"type": "text", "text": "N.S.", "fontWeight": "bold", "fontSize": 13.5, "align": "right", "baseline": "alphabetic", "color": "#000"},
   "encoding": {"x": {"datum": 57.6, "type": "quantitative"}, "y": {"datum": 4.44, "type": "quantitative"}}}
 ]
},
{
 "width": 152, "height": 72,
 "layer": [
  {"data": {"name": "p4"}, "mark": {"type": "point", "filled": true, "color": "#3a3a3a", "opacity": 0.55, "size": 18},
   "encoding": {
    "x": {"field": "x", "type": "quantitative", "title": "Temperature", "scale": {"domain": [9.8, 26.6], "nice": false, "zero": false}, "axis": {"values": [10, 15, 20, 25], "labelOverlap": false, "tickCount": 12}},
    "y": {"field": "y", "type": "quantitative", "title": ["Cube-Root", "(Number of House Flies)"], "scale": {"domain": [-0.45, 5.2], "nice": false, "zero": false}, "axis": {"values": [0, 1, 2, 3, 4, 5], "labelOverlap": false, "tickCount": 12}}}},
  {"data": {"name": "f4"}, "mark": {"type": "area", "color": "#9a9a9a", "opacity": 0.45, "interpolate": "monotone"},
   "encoding": {"x": {"field": "x", "type": "quantitative", "title": "Temperature"}, "y": {"field": "lo", "type": "quantitative", "title": ["Cube-Root", "(Number of House Flies)"]}, "y2": {"field": "hi"}}},
  {"data": {"name": "f4"}, "mark": {"type": "line", "color": "#000", "strokeWidth": 1.6},
   "encoding": {"x": {"field": "x", "type": "quantitative", "title": "Temperature"}, "y": {"field": "y", "type": "quantitative", "title": ["Cube-Root", "(Number of House Flies)"]}}}
 ]
},
{
 "width": 157, "height": 72,
 "layer": [
  {"data": {"name": "p5"}, "mark": {"type": "point", "filled": true, "color": "#3a3a3a", "opacity": 0.5, "size": 20},
   "encoding": {
    "x": {"field": "x", "type": "quantitative", "title": "Temperature (C)", "scale": {"domain": [16, 45.3], "nice": false, "zero": false}, "axis": {"values": [20, 25, 30, 35, 40, 45], "labelOverlap": false, "tickCount": 12}},
    "y": {"field": "y", "type": "quantitative", "title": ["Cube-Root", "(Number of House Flies)"], "scale": {"domain": [-0.45, 5.2], "nice": false, "zero": false}, "axis": {"values": [0, 1, 2, 3, 4, 5], "labelOverlap": false, "tickCount": 12}},
    "shape": {"field": "sex", "type": "nominal", "scale": {"domain": ["Female", "Male"], "range": ["triangle-up", "square"]}, "legend": null}}},
  {"data": {"name": "f5"}, "mark": {"type": "area", "color": "#9a9a9a", "opacity": 0.45, "interpolate": "monotone"},
   "encoding": {"x": {"field": "x", "type": "quantitative", "title": "Temperature (C)"}, "y": {"field": "lo", "type": "quantitative", "title": ["Cube-Root", "(Number of House Flies)"]}, "y2": {"field": "hi"}}},
  {"data": {"name": "f5"}, "mark": {"type": "line", "color": "#000", "strokeWidth": 1.6},
   "encoding": {"x": {"field": "x", "type": "quantitative", "title": "Temperature (C)"}, "y": {"field": "y", "type": "quantitative", "title": ["Cube-Root", "(Number of House Flies)"]}}}
 ]
},
{
 "width": 150, "height": 72,
 "layer": [
  {"data": {"name": "p6"}, "mark": {"type": "point", "filled": true, "color": "#3a3a3a", "opacity": 0.55, "size": 18},
   "encoding": {
    "x": {"field": "x", "type": "quantitative", "title": "Temperature (C)", "scale": {"domain": [16.1, 38.1], "nice": false, "zero": false}, "axis": {"values": [20, 25, 30, 35], "labelOverlap": false, "tickCount": 12}},
    "y": {"field": "y", "type": "quantitative", "title": ["Cube-Root", "(Number of House Flies)"], "scale": {"domain": [-0.45, 5.2], "nice": false, "zero": false}, "axis": {"values": [0, 1, 2, 3, 4, 5], "labelOverlap": false, "tickCount": 12}}}},
  {"data": {"name": "f6"}, "mark": {"type": "area", "color": "#9a9a9a", "opacity": 0.45, "interpolate": "monotone"},
   "encoding": {"x": {"field": "x", "type": "quantitative", "title": "Temperature (C)"}, "y": {"field": "lo", "type": "quantitative", "title": ["Cube-Root", "(Number of House Flies)"]}, "y2": {"field": "hi"}}},
  {"data": {"name": "f6"}, "mark": {"type": "line", "color": "#000", "strokeWidth": 1.6},
   "encoding": {"x": {"field": "x", "type": "quantitative", "title": "Temperature (C)"}, "y": {"field": "y", "type": "quantitative", "title": ["Cube-Root", "(Number of House Flies)"]}}}
 ]
},
{
 "width": 152, "height": 68,
 "layer": [
  {"data": {"name": "p7"}, "mark": {"type": "point", "filled": true, "color": "#3a3a3a", "opacity": 0.55, "size": 18},
   "encoding": {
    "x": {"field": "x", "type": "quantitative", "title": "Wind Speed (m/s)", "scale": {"domain": [-0.13, 2.86], "nice": false, "zero": false}, "axis": {"values": [0, 1, 2], "labelOverlap": false, "tickCount": 12}},
    "y": {"field": "y", "type": "quantitative", "title": ["Cube-Root", "(Number of House Flies)"], "scale": {"domain": [-0.32, 5.15], "nice": false, "zero": false}, "axis": {"values": [0, 1, 2, 3, 4, 5], "labelOverlap": false, "tickCount": 12}}}},
  {"data": {"name": "f7"}, "mark": {"type": "area", "color": "#9a9a9a", "opacity": 0.45, "interpolate": "monotone"},
   "encoding": {"x": {"field": "x", "type": "quantitative", "title": "Wind Speed (m/s)"}, "y": {"field": "lo", "type": "quantitative", "title": ["Cube-Root", "(Number of House Flies)"]}, "y2": {"field": "hi"}}},
  {"data": {"name": "f7"}, "mark": {"type": "line", "color": "#000", "strokeWidth": 1.6},
   "encoding": {"x": {"field": "x", "type": "quantitative", "title": "Wind Speed (m/s)"}, "y": {"field": "y", "type": "quantitative", "title": ["Cube-Root", "(Number of House Flies)"]}}},
  {"data": {"values": [{}]}, "mark": {"type": "text", "text": "N.S.", "fontWeight": "bold", "fontSize": 13.5, "align": "right", "baseline": "alphabetic", "color": "#000"},
   "encoding": {"x": {"datum": 2.76, "type": "quantitative"}, "y": {"datum": 4.42, "type": "quantitative"}}}
 ]
},
{
 "width": 157, "height": 68,
 "layer": [
  {"data": {"name": "p8"}, "mark": {"type": "point", "filled": true, "color": "#3a3a3a", "opacity": 0.55, "size": 18},
   "encoding": {
    "x": {"field": "x", "type": "quantitative", "title": "Wind Speed (m/s)", "scale": {"domain": [-0.3, 8.0], "nice": false, "zero": false}, "axis": {"values": [0, 2, 4, 6], "labelOverlap": false, "tickCount": 12}},
    "y": {"field": "y", "type": "quantitative", "title": ["Cube-Root", "(Number of House Flies)"], "scale": {"domain": [-0.32, 5.15], "nice": false, "zero": false}, "axis": {"values": [0, 1, 2, 3, 4, 5], "labelOverlap": false, "tickCount": 12}}}},
  {"data": {"name": "f8"}, "mark": {"type": "area", "color": "#9a9a9a", "opacity": 0.45, "interpolate": "monotone"},
   "encoding": {"x": {"field": "x", "type": "quantitative", "title": "Wind Speed (m/s)"}, "y": {"field": "lo", "type": "quantitative", "title": ["Cube-Root", "(Number of House Flies)"]}, "y2": {"field": "hi"}}},
  {"data": {"name": "f8"}, "mark": {"type": "line", "color": "#000", "strokeWidth": 1.6},
   "encoding": {"x": {"field": "x", "type": "quantitative", "title": "Wind Speed (m/s)"}, "y": {"field": "y", "type": "quantitative", "title": ["Cube-Root", "(Number of House Flies)"]}}},
  {"data": {"values": [{}]}, "mark": {"type": "text", "text": "N.S.", "fontWeight": "bold", "fontSize": 13.5, "align": "right", "baseline": "alphabetic", "color": "#000"},
   "encoding": {"x": {"datum": 7.47, "type": "quantitative"}, "y": {"datum": 4.42, "type": "quantitative"}}}
 ]
},
{
 "width": 150, "height": 68,
 "layer": [
  {"data": {"name": "p9"}, "mark": {"type": "point", "filled": true, "color": "#3a3a3a", "opacity": 0.55, "size": 18},
   "encoding": {
    "x": {"field": "x", "type": "quantitative", "title": "Wind Speed (m/s)", "scale": {"domain": [-0.2, 5.65], "nice": false, "zero": false}, "axis": {"values": [0, 2, 4], "labelOverlap": false, "tickCount": 12}},
    "y": {"field": "y", "type": "quantitative", "title": ["Cube-Root", "(Number of House Flies)"], "scale": {"domain": [-0.32, 5.15], "nice": false, "zero": false}, "axis": {"values": [0, 1, 2, 3, 4, 5], "labelOverlap": false, "tickCount": 12}}}},
  {"data": {"name": "f9"}, "mark": {"type": "area", "color": "#9a9a9a", "opacity": 0.45, "interpolate": "monotone"},
   "encoding": {"x": {"field": "x", "type": "quantitative", "title": "Wind Speed (m/s)"}, "y": {"field": "lo", "type": "quantitative", "title": ["Cube-Root", "(Number of House Flies)"]}, "y2": {"field": "hi"}}},
  {"data": {"name": "f9"}, "mark": {"type": "line", "color": "#000", "strokeWidth": 1.6},
   "encoding": {"x": {"field": "x", "type": "quantitative", "title": "Wind Speed (m/s)"}, "y": {"field": "y", "type": "quantitative", "title": ["Cube-Root", "(Number of House Flies)"]}}}
 ]
},
{
 "width": 152, "height": 67,
 "layer": [
  {"data": {"name": "p10"}, "mark": {"type": "point", "filled": true, "color": "#3a3a3a", "opacity": 0.55, "size": 18},
   "encoding": {
    "x": {"field": "x", "type": "quantitative", "title": "Humidity (%)", "scale": {"domain": [34, 89.8], "nice": false, "zero": false}, "axis": {"values": [40, 50, 60, 70, 80], "labelOverlap": false, "tickCount": 12}},
    "y": {"field": "y", "type": "quantitative", "title": ["Cube-Root", "(Number of House Flies)"], "scale": {"domain": [-0.27, 5.15], "nice": false, "zero": false}, "axis": {"values": [0, 1, 2, 3, 4, 5], "labelOverlap": false, "tickCount": 12}}}},
  {"data": {"name": "f10"}, "mark": {"type": "area", "color": "#9a9a9a", "opacity": 0.45, "interpolate": "monotone"},
   "encoding": {"x": {"field": "x", "type": "quantitative", "title": "Humidity (%)"}, "y": {"field": "lo", "type": "quantitative", "title": ["Cube-Root", "(Number of House Flies)"]}, "y2": {"field": "hi"}}},
  {"data": {"name": "f10"}, "mark": {"type": "line", "color": "#000", "strokeWidth": 1.6},
   "encoding": {"x": {"field": "x", "type": "quantitative", "title": "Humidity (%)"}, "y": {"field": "y", "type": "quantitative", "title": ["Cube-Root", "(Number of House Flies)"]}}},
  {"data": {"values": [{}]}, "mark": {"type": "text", "text": "N.S.", "fontWeight": "bold", "fontSize": 13.5, "align": "right", "baseline": "alphabetic", "color": "#000"},
   "encoding": {"x": {"datum": 88, "type": "quantitative"}, "y": {"datum": 4.16, "type": "quantitative"}}}
 ]
},
{
 "width": 157, "height": 67,
 "layer": [
  {"data": {"name": "p11"}, "mark": {"type": "point", "filled": true, "color": "#3a3a3a", "opacity": 0.55, "size": 18},
   "encoding": {
    "x": {"field": "x", "type": "quantitative", "title": "Humidity (%)", "scale": {"domain": [9.6, 82.5], "nice": false, "zero": false}, "axis": {"values": [20, 40, 60, 80], "labelOverlap": false, "tickCount": 12}},
    "y": {"field": "y", "type": "quantitative", "title": ["Cube-Root", "(Number of House Flies)"], "scale": {"domain": [-0.27, 5.15], "nice": false, "zero": false}, "axis": {"values": [0, 1, 2, 3, 4, 5], "labelOverlap": false, "tickCount": 12}}}},
  {"data": {"name": "f11"}, "mark": {"type": "area", "color": "#9a9a9a", "opacity": 0.45, "interpolate": "monotone"},
   "encoding": {"x": {"field": "x", "type": "quantitative", "title": "Humidity (%)"}, "y": {"field": "lo", "type": "quantitative", "title": ["Cube-Root", "(Number of House Flies)"]}, "y2": {"field": "hi"}}},
  {"data": {"name": "f11"}, "mark": {"type": "line", "color": "#000", "strokeWidth": 1.6},
   "encoding": {"x": {"field": "x", "type": "quantitative", "title": "Humidity (%)"}, "y": {"field": "y", "type": "quantitative", "title": ["Cube-Root", "(Number of House Flies)"]}}},
  {"data": {"values": [{}]}, "mark": {"type": "text", "text": "N.S.", "fontWeight": "bold", "fontSize": 13.5, "align": "right", "baseline": "alphabetic", "color": "#000"},
   "encoding": {"x": {"datum": 76.9, "type": "quantitative"}, "y": {"datum": 4.2, "type": "quantitative"}}},
  {"data": {"values": [{"sex": "Female"}, {"sex": "Male"}]}, "mark": {"type": "point", "filled": false, "color": "#000", "strokeWidth": 1.3, "opacity": 1},
   "encoding": {
    "x": {"field": "x", "type": "quantitative", "title": "Humidity (%)"},
    "y": {"field": "y", "type": "quantitative", "title": ["Cube-Root", "(Number of House Flies)"]},
    "shape": {"field": "sex", "type": "nominal",
     "scale": {"domain": ["Female", "Male"], "range": ["M-1.7,0H1.7M0,-0.36L0.34,0.24L-0.34,0.24Z", "M-1.7,0H-1.35M-1.1,0H-0.75M-0.5,0H-0.3M0.3,0H0.5M0.75,0H1.1M1.35,0H1.7M-0.28,-0.28H0.28V0.28H-0.28Z"]},
     "legend": {"title": "Sex", "orient": "none", "legendX": -13, "legendY": 89, "direction": "horizontal", "titleOrient": "left", "titleFontSize": 11.6, "titleFontWeight": "normal", "titleColor": "#000", "titlePadding": 8, "titleBaseline": "middle",
       "labelFontSize": 9, "labelColor": "#000", "labelOffset": 17, "symbolSize": 300, "symbolStrokeWidth": 1.3, "symbolStrokeColor": "#000", "columnPadding": 6}}}}
 ]
},
{
 "width": 150, "height": 67,
 "layer": [
  {"data": {"name": "p12"}, "mark": {"type": "point", "filled": true, "color": "#3a3a3a", "opacity": 0.55, "size": 18},
   "encoding": {
    "x": {"field": "x", "type": "quantitative", "title": "Humidity (%)", "scale": {"domain": [17.4, 63.6], "nice": false, "zero": false}, "axis": {"values": [20, 30, 40, 50, 60], "labelOverlap": false, "tickCount": 12}},
    "y": {"field": "y", "type": "quantitative", "title": ["Cube-Root", "(Number of House Flies)"], "scale": {"domain": [-0.27, 5.15], "nice": false, "zero": false}, "axis": {"values": [0, 1, 2, 3, 4, 5], "labelOverlap": false, "tickCount": 12}}}},
  {"data": {"name": "f12"}, "mark": {"type": "area", "color": "#9a9a9a", "opacity": 0.45, "interpolate": "monotone"},
   "encoding": {"x": {"field": "x", "type": "quantitative", "title": "Humidity (%)"}, "y": {"field": "lo", "type": "quantitative", "title": ["Cube-Root", "(Number of House Flies)"]}, "y2": {"field": "hi"}}},
  {"data": {"name": "f12"}, "mark": {"type": "line", "color": "#000", "strokeWidth": 1.6},
   "encoding": {"x": {"field": "x", "type": "quantitative", "title": "Humidity (%)"}, "y": {"field": "y", "type": "quantitative", "title": ["Cube-Root", "(Number of House Flies)"]}}},
  {"data": {"values": [{}]}, "mark": {"type": "text", "text": "N.S.", "fontWeight": "bold", "fontSize": 13.5, "align": "right", "baseline": "alphabetic", "color": "#000"},
   "encoding": {"x": {"datum": 62.7, "type": "quantitative"}, "y": {"datum": 4.16, "type": "quantitative"}}}
 ]
}
]
}
